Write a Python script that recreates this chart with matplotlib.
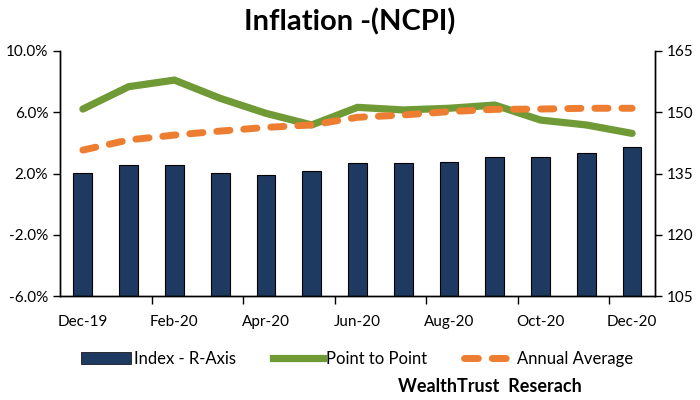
import numpy as np
import matplotlib.pyplot as plt
from matplotlib.lines import Line2D
from matplotlib.patches import Patch

plt.rcParams['font.family'] = ['Lato', 'DejaVu Sans']

months = ['Dec-19', 'Jan-20', 'Feb-20', 'Mar-20', 'Apr-20', 'May-20', 'Jun-20',
          'Jul-20', 'Aug-20', 'Sep-20', 'Oct-20', 'Nov-20', 'Dec-20']
index_vals = [135.2, 137.2, 137.2, 135.2, 134.7, 135.6, 137.5,
              137.5, 137.9, 139.1, 139.1, 139.9, 141.5]
point_to_point = [6.21, 7.67, 8.10, 6.91, 5.93, 5.17, 6.32,
                  6.15, 6.26, 6.47, 5.49, 5.17, 4.62]
annual_avg = [3.53, 4.19, 4.51, 4.77, 5.01, 5.17, 5.67,
              5.82, 6.04, 6.19, 6.21, 6.26, 6.26]

navy = '#1F3A60'
green = '#6F9A35'
orange = '#ED7D31'

fig = plt.figure(figsize=(7, 4), dpi=100)
ax1 = fig.add_axes([0.0857, 0.26, 0.8500, 0.6125])
ax2 = ax1.twinx()

x = np.arange(len(months))

# bars on the right axis
ax2.bar(x, index_vals, width=0.41, color=navy, edgecolor='black', linewidth=0.8)
ax2.set_ylim(105, 165)
ax2.set_yticks([105, 120, 135, 150, 165])

# lines on the left axis
ax1.plot(x, point_to_point, color=green, linewidth=5.2, solid_capstyle='round')
dl, = ax1.plot(x, annual_avg, color=orange, linewidth=5, dash_capstyle='round')
dl.set_dashes([1.9, 2.0])
ax1.set_zorder(ax2.get_zorder() + 1)
ax1.patch.set_visible(False)

ax1.set_ylim(-6, 10)
ax1.set_yticks([-6, -2, 2, 6, 10])
ax1.set_yticklabels(['%.1f%%' % v for v in [-6, -2, 2, 6, 10]])
ax1.set_xlim(-0.5, len(months) - 0.5)

ax1.set_xticks(x[::2])
ax1.set_xticklabels(months[::2])
ax1.set_xticks(np.arange(1.5, 12, 2), minor=True)
ax1.tick_params(axis='x', which='major', length=0, pad=14)
ax1.tick_params(axis='x', which='minor', length=6, width=1, direction='out')
ax1.tick_params(axis='y', length=5, width=1, direction='out', labelsize=11)
ax2.tick_params(axis='y', length=5, width=1, direction='out', labelsize=11)
ax1.tick_params(axis='x', labelsize=11)

for a in (ax1, ax2):
    a.spines['top'].set_visible(False)
    for s in ('left', 'right', 'bottom'):
        a.spines[s].set_color('black')
        a.spines[s].set_linewidth(1)

fig.text(0.5, 0.945, 'Inflation -(NCPI)', ha='center', va='center',
         fontsize=21, fontweight='bold')

handles = [Patch(facecolor=navy, edgecolor='black', linewidth=0.5),
           Line2D([], [], color=green, linewidth=5.2),
           Line2D([], [], color=orange, linewidth=5, dashes=[2.0, 2.0],
                  dash_capstyle='round')]
fig.legend(handles, ['Index - R-Axis', 'Point to Point', 'Annual Average'],
           loc='center', bbox_to_anchor=(0.51, 0.103), ncol=3, frameon=False,
           fontsize=12, handlelength=3.0, handletextpad=0.2, columnspacing=2.2)

fig.text(0.70, 0.035, 'WealthTrust  Reserach', ha='center', va='center',
         fontsize=13, fontweight='bold')

fig.savefig('out.png', dpi=100)
